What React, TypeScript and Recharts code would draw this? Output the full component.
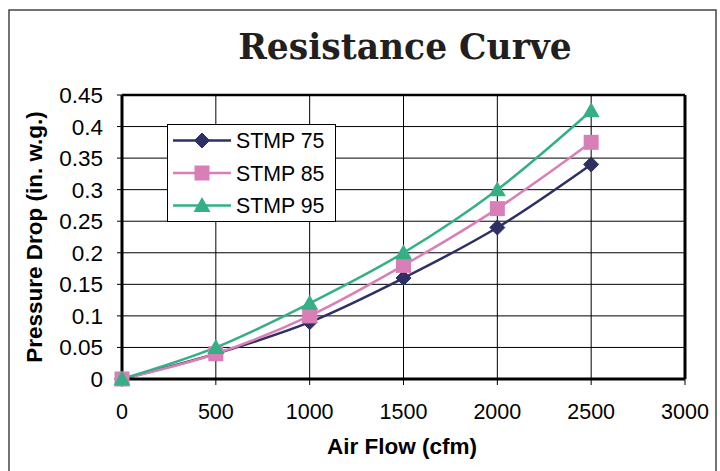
import React from 'react';
import { LineChart, Line, XAxis, YAxis, CartesianGrid, Legend, ReferenceLine } from 'recharts';

const airFlow = [0, 500, 1000, 1500, 2000, 2500];
const stmp75 = [0, 0.04, 0.09, 0.16, 0.24, 0.34];
const stmp85 = [0, 0.04, 0.1, 0.18, 0.27, 0.375];
const stmp95 = [0, 0.05, 0.12, 0.2, 0.3, 0.425];
const xTicks = [0, 500, 1000, 1500, 2000, 2500, 3000];
const yTicks = [0, 0.05, 0.1, 0.15, 0.2, 0.25, 0.3, 0.35, 0.4, 0.45];
const seriesNames = ['STMP 75', 'STMP 85', 'STMP 95'];

const data = airFlow.map((x, i) => ({ x, s75: stmp75[i], s85: stmp85[i], s95: stmp95[i] }));

const C75 = '#2E3064';
const C85 = '#D97FB8';
const C95 = '#35B084';
const FONT = '"Liberation Sans", Arial, sans-serif';

const Diamond = ({ cx, cy, c }: any) => (
  <path d={`M${cx},${cy - 7.5} L${cx + 7.5},${cy} L${cx},${cy + 7.5} L${cx - 7.5},${cy} Z`} fill={c} stroke={c} />
);
const Square = ({ cx, cy, c }: any) => <rect x={cx - 7.5} y={cy - 7.5} width={15} height={15} fill={c} />;
const Tri = ({ cx, cy, c }: any) => (
  <path d={`M${cx},${cy - 8.5} L${cx + 8.5},${cy + 6.5} L${cx - 8.5},${cy + 6.5} Z`} fill={c} />
);

const dot75 = (p: any) => <Diamond key={`d75-${p.index}`} cx={p.cx} cy={p.cy} c={C75} />;
const dot85 = (p: any) => <Square key={`d85-${p.index}`} cx={p.cx} cy={p.cy} c={C85} />;
const dot95 = (p: any) => <Tri key={`d95-${p.index}`} cx={p.cx} cy={p.cy} c={C95} />;

const legendItems = [
  { name: seriesNames[0], color: C75, M: Diamond },
  { name: seriesNames[1], color: C85, M: Square },
  { name: seriesNames[2], color: C95, M: Tri },
];

const LegendContent = () => (
  <svg width={167} height={96} style={{ display: 'block' }}>
    {legendItems.map((it, i) => {
      const y = 15.5 + i * 32.5;
      return (
        <g key={it.name}>
          <line x1={5} x2={63} y1={y} y2={y} stroke={it.color} strokeWidth={2.5} />
          <it.M cx={34} cy={y} c={it.color} />
          <text x={68} y={y + 7.6} fontFamily={FONT} fontSize={21.3} fill="#000">{it.name}</text>
        </g>
      );
    })}
  </svg>
);

export default function App() {
  return (
    <div style={{ position: 'absolute', left: 0, top: 0, width: 720, height: 471, background: '#fff', overflow: 'hidden' }}>
      <LineChart width={720} height={471} data={data} margin={{ top: 95, right: 35, bottom: 52, left: 62 }}>
        <CartesianGrid stroke="#000" strokeWidth={1} strokeOpacity={1} />
        <XAxis
          dataKey="x"
          type="number"
          domain={[0, 3000]}
          ticks={xTicks}
          height={40}
          tickSize={6}
          tickMargin={19}
          axisLine={{ stroke: '#000', strokeWidth: 3 }}
          tickLine={{ stroke: '#000', strokeWidth: 1 }}
          tick={{ fill: '#000', fontSize: 21.5, fontFamily: FONT }}
          interval={0}
        />
        <YAxis
          type="number"
          domain={[0, 0.45]}
          ticks={yTicks}
          width={60}
          tickSize={5}
          tickMargin={14}
          axisLine={{ stroke: '#000', strokeWidth: 3 }}
          tickLine={{ stroke: '#000', strokeWidth: 1 }}
          tick={{ fill: '#000', fontSize: 22.5, fontFamily: FONT }}
          interval={0}
        />
        <ReferenceLine y={0.45} stroke="#000" strokeWidth={2.5} />
        <ReferenceLine x={3000} stroke="#000" strokeWidth={3} />
        <Legend
          layout="vertical"
          align="center"
          verticalAlign="middle"
          content={<LegendContent />}
          wrapperStyle={{ position: 'absolute', left: 167, top: 124, width: 169, height: 98, border: '1px solid #000', background: '#fff', boxSizing: 'border-box', bottom: 'auto', right: 'auto' }}
        />
        <Line dataKey="s75" name={seriesNames[0]} type="monotone" stroke={C75} strokeWidth={2.5} dot={dot75} isAnimationActive={false} />
        <Line dataKey="s85" name={seriesNames[1]} type="monotone" stroke={C85} strokeWidth={2.5} dot={dot85} isAnimationActive={false} />
        <Line dataKey="s95" name={seriesNames[2]} type="monotone" stroke={C95} strokeWidth={2.5} dot={dot95} isAnimationActive={false} />
      </LineChart>
      <svg width={720} height={471} style={{ position: 'absolute', left: 0, top: 0, pointerEvents: 'none' }}>
        <rect x={9} y={10} width={707} height={470} fill="none" stroke="#444" strokeWidth={1.5} />
        <text x={405} y={59} textAnchor="middle" fontFamily='"DejaVu Serif", serif' fontWeight="bold" fontSize={34.5} fill="#231F20">Resistance Curve</text>
        <text x={402} y={454} textAnchor="middle" fontFamily={FONT} fontWeight="bold" fontSize={22.5} fill="#000">Air Flow (cfm)</text>
        <text x={42} y={237} textAnchor="middle" fontFamily={FONT} fontWeight="bold" fontSize={22.5} fill="#000" transform="rotate(-90 42 237)">Pressure Drop (in. w.g.)</text>
      </svg>
    </div>
  );
}
